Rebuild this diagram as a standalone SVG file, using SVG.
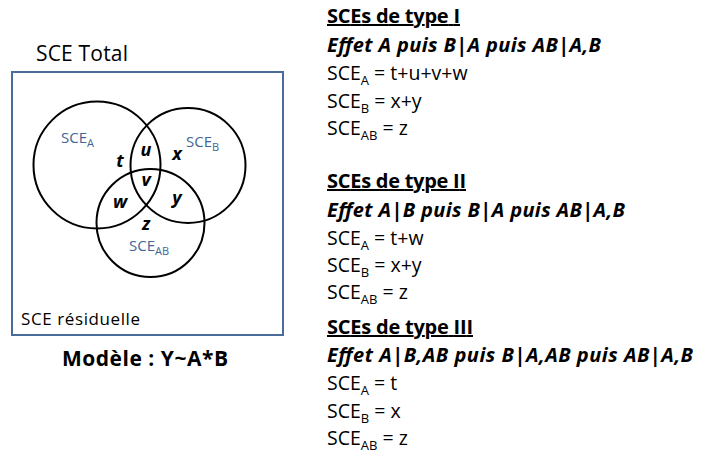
<svg xmlns="http://www.w3.org/2000/svg" width="705" height="464" viewBox="0 0 705 464">
<style>
text{font-family:"Open Sans","Noto Sans","Liberation Sans",sans-serif;fill:#000}
.frame{fill:none;stroke:#4a6c9b;stroke-width:2}
.circ{fill:none;stroke:#000;stroke-width:2}
.lbl{font-size:15px;fill:#3f6696}
.lbl .s{font-size:11px}
.var{font-size:18px;font-weight:bold;font-style:italic;text-anchor:middle}
.ttl{font-size:20px;font-weight:bold;text-decoration:underline}
.eff{font-size:20px;font-weight:bold;font-style:italic}
.eq{font-size:19.5px}
.eq .s{font-size:13px}
</style>
<g id="diagram">
<g id="total">
<rect class="frame" x="12" y="72" width="271" height="263"/>
<text x="36" y="61" font-size="21" textLength="92">SCE Total</text>
<text x="21" y="325" font-size="17" textLength="119">SCE résiduelle</text>
</g>
<g id="circleA">
<circle class="circ" cx="97" cy="165" r="63.5"/>
<text class="lbl" x="61" y="143">SCE<tspan class="s" dy="4">A</tspan></text>
</g>
<g id="circleB">
<circle class="circ" cx="188" cy="165.5" r="57.5"/>
<text class="lbl" x="186" y="147">SCE<tspan class="s" dy="4">B</tspan></text>
</g>
<g id="circleAB">
<circle class="circ" cx="150.5" cy="223" r="54"/>
<text class="lbl" x="129" y="251">SCE<tspan class="s" dy="4">AB</tspan></text>
</g>
<g id="regions">
<text class="var" x="120" y="167">t</text>
<text class="var" x="146" y="156">u</text>
<text class="var" x="177" y="160">x</text>
<text class="var" x="146" y="186">v</text>
<text class="var" x="120" y="208">w</text>
<text class="var" x="177" y="204">y</text>
<text class="var" x="146" y="230">z</text>
</g>
<g id="model">
<text x="62" y="366" font-size="21" font-weight="bold" textLength="166">Modèle : Y~A*B</text>
</g>
</g>
<g id="type1">
<text class="ttl" x="327" y="23" textLength="133">SCEs de type I</text>
<text class="eff" x="327" y="52" textLength="274">Effet A puis B|A puis AB|A,B</text>
<text class="eq" x="327" y="80">SCE<tspan class="s" dy="5">A</tspan><tspan dy="-5"> = t+u+v+w</tspan></text>
<text class="eq" x="327" y="108">SCE<tspan class="s" dy="5">B</tspan><tspan dy="-5"> = x+y</tspan></text>
<text class="eq" x="327" y="135">SCE<tspan class="s" dy="5">AB</tspan><tspan dy="-5"> = z</tspan></text>
</g>
<g id="type2">
<text class="ttl" x="327" y="188" textLength="139">SCEs de type II</text>
<text class="eff" x="327" y="217" textLength="298">Effet A|B puis B|A puis AB|A,B</text>
<text class="eq" x="327" y="245">SCE<tspan class="s" dy="5">A</tspan><tspan dy="-5"> = t+w</tspan></text>
<text class="eq" x="327" y="272">SCE<tspan class="s" dy="5">B</tspan><tspan dy="-5"> = x+y</tspan></text>
<text class="eq" x="327" y="299">SCE<tspan class="s" dy="5">AB</tspan><tspan dy="-5"> = z</tspan></text>
</g>
<g id="type3">
<text class="ttl" x="327" y="334" textLength="146">SCEs de type III</text>
<text class="eff" x="327" y="362" textLength="366">Effet A|B,AB puis B|A,AB puis AB|A,B</text>
<text class="eq" x="327" y="390">SCE<tspan class="s" dy="5">A</tspan><tspan dy="-5"> = t</tspan></text>
<text class="eq" x="327" y="418">SCE<tspan class="s" dy="5">B</tspan><tspan dy="-5"> = x</tspan></text>
<text class="eq" x="327" y="445">SCE<tspan class="s" dy="5">AB</tspan><tspan dy="-5"> = z</tspan></text>
</g>
</svg>
